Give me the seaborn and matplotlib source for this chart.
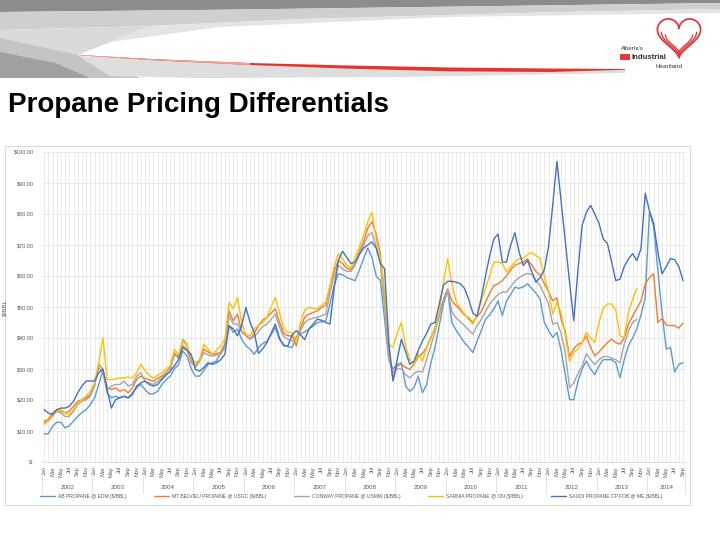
import numpy as np
import pandas as pd
import matplotlib
matplotlib.use('Agg')
import matplotlib.pyplot as plt
import seaborn as sns
from matplotlib.patches import Polygon, Rectangle
from matplotlib.transforms import blended_transform_factory

# ---- data (monthly, Jan 2002 .. Sep 2014), $/bbl ----
names = ['AB PROPANE @ EDM ($/BBL)', 'MT BELVIEU PROPANE @ USGC ($/BBL)',
         'CONWAY PROPANE @ USMW ($/BBL)', 'SARNIA PROPANE @ ON ($/BBL)',
         'SAUDI PROPANE CP FOB @ ME ($/BBL)']
colors = ['#5B9BD5', '#ED7D31', '#A5A5A5', '#FFC000', '#4472C4']

month_abbr = ['Jan', 'Feb', 'Mar', 'Apr', 'May', 'Jun',
              'Jul', 'Aug', 'Sep', 'Oct', 'Nov', 'Dec']
years = ['2002', '2003', '2004', '2005', '2006', '2007', '2008',
         '2009', '2010', '2011', '2012', '2013', '2014']
y_ticks = [0, 10, 20, 30, 40, 50, 60, 70, 80, 90, 100]
y_labels = ['$-', '$10.00', '$20.00', '$30.00', '$40.00', '$50.00',
            '$60.00', '$70.00', '$80.00', '$90.00', '$100.00']

ab_edm = [
    9.1, 9.1, 11.5, 12.8, 12.8, 11.0, 11.7, 13.2, 14.7, 16.0,
    16.9, 18.5, 20.7, 25.0, 29.4, 22.3, 20.7, 21.2, 20.7, 21.2,
    20.7, 22.3, 23.9, 25.0, 23.4, 22.0, 22.0, 22.8, 25.0, 26.5,
    27.7, 30.0, 31.5, 35.8, 34.2, 30.0, 27.7, 27.7, 29.5, 31.5,
    32.0, 32.6, 35.3, 38.0, 44.0, 41.8, 42.9, 39.6, 37.5, 36.4,
    34.7, 37.0, 38.2, 39.0, 41.0, 43.4, 39.5, 37.8, 37.2, 36.9,
    40.5, 41.3, 42.0, 42.9, 43.8, 45.0, 45.2, 45.5, 51.0, 57.0,
    60.7, 60.4, 59.5, 59.0, 58.5, 62.0, 65.6, 69.0, 66.0, 60.0,
    58.5, 46.0, 33.0, 30.0, 31.5, 32.0, 24.5, 22.8, 24.0, 27.7,
    22.3, 25.0, 32.0, 37.0, 44.0, 51.0, 55.3, 45.0, 42.5, 40.5,
    38.5, 37.0, 35.3, 39.0, 42.4, 46.0, 47.5, 49.4, 52.0, 47.2,
    52.0, 54.0, 56.4, 56.0, 56.5, 57.5, 56.0, 54.5, 52.6, 45.0,
    42.4, 40.2, 41.8, 36.0, 28.0, 20.1, 20.1, 26.0, 30.0, 32.6,
    30.0, 28.2, 31.0, 33.0, 33.0, 33.0, 32.0, 27.2, 33.0, 37.5,
    40.0, 43.0, 47.5, 53.0, 80.8, 76.0, 62.0, 48.0, 36.4, 37.0,
    29.0, 31.5, 32.0]

mt_belvieu = [
    13.2, 13.7, 15.8, 16.9, 16.4, 15.8, 16.4, 18.0, 19.6, 20.1,
    20.7, 21.7, 25.0, 31.5, 29.9, 23.9, 23.4, 23.9, 22.8, 23.4,
    22.3, 23.9, 26.6, 27.7, 27.0, 26.5, 26.0, 27.0, 27.7, 29.0,
    30.5, 34.7, 33.5, 37.5, 36.4, 32.0, 31.0, 33.0, 36.4, 35.5,
    34.7, 35.0, 35.3, 38.0, 48.8, 45.5, 47.7, 42.0, 40.7, 39.6,
    41.5, 44.0, 45.8, 46.6, 48.0, 49.4, 45.0, 41.5, 40.7, 40.7,
    37.5, 43.0, 46.8, 47.7, 48.2, 48.8, 49.8, 50.5, 56.5, 61.5,
    65.0, 64.0, 62.5, 62.0, 64.0, 68.0, 71.0, 75.5, 77.5, 73.5,
    67.0, 53.0, 37.0, 26.2, 31.0, 31.5, 30.5, 29.9, 31.5, 34.0,
    35.0, 37.0, 40.0, 43.5, 48.0, 52.5, 55.8, 52.0, 50.5, 49.0,
    47.5, 46.5, 45.0, 47.0, 48.5, 51.5, 54.5, 56.9, 57.5, 58.5,
    60.0, 62.0, 63.5, 64.0, 64.5, 65.5, 63.5, 61.5, 60.2, 57.5,
    55.0, 52.0, 53.0, 46.0, 42.0, 34.0, 36.5, 38.0, 38.5, 40.7,
    37.0, 34.2, 35.5, 37.0, 38.5, 39.6, 38.5, 38.0, 40.0, 44.5,
    47.0, 49.5, 52.0, 57.5, 59.5, 60.7, 45.0, 46.3, 44.2, 44.0,
    44.0, 43.2, 44.8]

conway = [
    12.6, 13.2, 14.7, 16.4, 15.8, 14.7, 14.7, 16.4, 18.5, 19.6,
    20.1, 21.2, 24.5, 30.5, 28.8, 23.4, 24.5, 25.0, 25.0, 26.1,
    24.5, 25.0, 27.7, 28.8, 26.0, 25.5, 25.0, 26.0, 27.2, 28.3,
    29.3, 35.3, 34.0, 39.6, 38.0, 32.6, 30.5, 32.5, 35.3, 34.5,
    34.2, 34.5, 34.7, 36.9, 47.2, 44.5, 44.5, 42.0, 41.3, 39.6,
    40.5, 42.0, 43.7, 44.5, 46.0, 47.7, 43.5, 40.5, 39.5, 39.0,
    39.0, 42.5, 45.0, 46.0, 46.4, 46.7, 47.2, 47.7, 54.5, 60.0,
    63.4, 62.3, 61.5, 61.5, 63.5, 67.0, 69.9, 73.0, 74.0, 69.5,
    64.0, 50.0, 33.1, 28.8, 30.0, 30.0, 28.2, 27.1, 28.5, 29.3,
    29.0, 33.0, 37.5, 42.0, 47.0, 52.0, 55.3, 48.5, 46.5, 45.3,
    44.0, 42.5, 41.3, 44.0, 46.0, 48.5, 51.0, 52.6, 54.0, 54.8,
    54.8, 56.5, 58.3, 59.5, 60.3, 60.8, 60.5, 58.5, 56.9, 54.0,
    51.0, 44.5, 45.0, 41.5, 35.0, 24.0, 25.5, 28.5, 31.0, 35.0,
    33.0, 31.5, 33.0, 34.0, 34.0, 33.5, 33.0, 32.0, 38.0, 42.3,
    45.0, 46.0]

sarnia = [
    12.1, 13.2, 15.0, 16.4, 16.9, 15.8, 15.3, 16.9, 19.0, 20.1,
    21.2, 22.8, 25.5, 32.0, 40.0, 26.6, 26.6, 26.8, 27.1, 27.1,
    27.4, 27.1, 28.8, 31.5, 29.5, 28.0, 27.0, 28.0, 28.8, 30.0,
    31.0, 36.4, 34.7, 39.0, 37.5, 33.6, 32.0, 33.0, 38.0, 36.4,
    34.7, 36.0, 37.5, 39.6, 51.5, 49.4, 53.1, 45.0, 41.0, 40.7,
    43.0, 44.0, 45.0, 46.6, 50.0, 53.1, 48.0, 43.0, 41.8, 41.8,
    38.5, 45.0, 49.0, 49.9, 49.6, 49.4, 50.5, 51.5, 57.0, 63.0,
    67.2, 65.5, 63.5, 62.5, 66.0, 69.5, 73.1, 77.5, 80.5, 72.0,
    66.0, 55.0, 38.0, 37.0, 41.5, 45.0, 37.5, 33.0, 31.5, 35.0,
    32.5, 37.0, 40.5, 43.0, 48.5, 58.0, 65.6, 57.5, 52.0, 49.5,
    47.8, 46.0, 44.5, 47.5, 52.0, 56.0, 60.0, 64.5, 64.5, 64.0,
    61.3, 63.0, 64.5, 65.6, 65.6, 67.0, 67.5, 66.6, 65.6, 60.0,
    55.0, 47.8, 51.5, 48.0, 40.7, 32.5, 35.3, 36.4, 38.5, 41.8,
    40.0, 38.6, 45.0, 49.5, 51.0, 51.0, 49.0, 40.7, 40.2, 48.3,
    52.5, 56.0]

saudi_cp = [
    16.9, 15.8, 15.3, 16.9, 17.4, 17.4, 18.0, 19.6, 22.3, 24.5,
    26.1, 26.1, 26.1, 28.8, 29.9, 23.4, 17.4, 20.1, 20.7, 21.2,
    20.7, 21.7, 24.5, 25.5, 26.1, 25.0, 24.5, 25.0, 26.6, 28.0,
    29.3, 31.0, 33.1, 36.9, 36.0, 34.7, 29.9, 29.3, 30.5, 32.0,
    31.5, 32.0, 33.0, 34.7, 44.0, 42.9, 40.7, 44.0, 49.9, 45.0,
    41.8, 35.0, 36.5, 38.5, 41.5, 44.5, 40.0, 37.5, 37.5, 41.0,
    42.4, 41.0, 39.5, 42.9, 44.5, 46.1, 45.7, 45.0, 44.5, 56.0,
    65.0, 68.0, 66.0, 64.0, 64.5, 67.0, 69.0, 70.0, 71.0, 69.0,
    64.0, 62.3, 38.5, 26.2, 33.1, 39.6, 35.5, 31.5, 32.5, 36.0,
    39.0, 41.5, 44.5, 45.0, 51.0, 57.0, 58.3, 58.3, 58.0, 57.5,
    56.0, 52.5, 48.0, 47.0, 53.0, 60.0, 66.5, 72.0, 73.5, 64.5,
    64.5, 70.0, 74.0, 67.7, 63.4, 65.0, 61.5, 58.0, 59.5, 62.0,
    69.5, 83.0, 97.0, 84.0, 71.0, 58.0, 45.6, 62.0, 76.4, 80.5,
    82.8, 80.0, 77.0, 72.0, 70.5, 64.6, 58.5, 59.0, 63.0, 65.5,
    67.2, 65.0, 68.8, 86.7, 81.0, 77.0, 67.8, 60.7, 63.0, 65.6,
    65.3, 63.0, 58.5]

n_months = len(ab_edm)
series = [ab_edm, mt_belvieu, conway, sarnia, saudi_cp]
rows = []
for name, vals in zip(names, series):
    for i, v in enumerate(vals):
        rows.append((i, v, name))
df = pd.DataFrame(rows, columns=['month', 'price', 'series'])

# ---- figure ----
sns.set_theme(style='white')
plt.rcParams['font.family'] = ['Liberation Sans Narrow', 'Liberation Sans', 'DejaVu Sans']

fig = plt.figure(figsize=(7.2, 5.4), dpi=100)

# slide decoration (pixel coordinates, y down)
bg = fig.add_axes([0, 0, 1, 1], zorder=0)
bg.set_xlim(0, 720)
bg.set_ylim(540, 0)
bg.axis('off')

bg.add_patch(Polygon([(0, 0), (720, 0), (720, 3), (500, 6), (200, 10), (0, 12)],
                     color='#8c8c8c', lw=0))
bg.add_patch(Polygon([(0, 12), (200, 10), (500, 6), (720, 3), (720, 9), (560, 12),
                      (300, 19), (150, 26), (0, 30)], color='#cfcfcf', lw=0))
bg.add_patch(Polygon([(150, 26), (300, 19), (560, 12), (720, 9), (720, 13), (450, 17),
                      (220, 27), (110, 42), (78, 55)], color='#e4e4e4', lw=0))
bg.add_patch(Polygon([(0, 30), (150, 26), (78, 55), (0, 50)], color='#dadada', lw=0))
bg.add_patch(Polygon([(0, 38), (78, 55), (140, 78), (0, 78)], color='#c4c4c4', lw=0))
bg.add_patch(Polygon([(0, 52), (55, 63), (90, 78), (0, 78)], color='#a0a0a0', lw=0))
bg.add_patch(Polygon([(78, 56), (300, 66), (625, 70), (625, 73), (400, 77), (200, 78),
                      (110, 76)], color='#dedede', lw=0))

# red streak
sx = np.array([80, 150, 250, 350, 450, 550, 625])
sy = np.array([55, 59, 63, 65.5, 67.5, 68.5, 69])
th = np.array([0.4, 1.0, 2.0, 3.2, 3.8, 3.5, 0.8])
bg.add_patch(Polygon(np.column_stack([np.r_[sx, sx[::-1]], np.r_[sy, (sy + th)[::-1]]]),
                     color='#e3342f', lw=0))
bg.add_patch(Polygon(np.column_stack([np.r_[sx[:3], sx[:3][::-1]],
                                      np.r_[sy[:3], (sy[:3] + th[:3])[::-1]]]),
                     color='#f2a39a', lw=0))

# logo
t = np.linspace(0, 2 * np.pi, 200)
hx = 16 * np.sin(t) ** 3
hy = 13 * np.cos(t) - 5 * np.cos(2 * t) - 2 * np.cos(3 * t) - np.cos(4 * t)
for s, lw in [(1.35, 1.3), (1.1, 1.0), (0.85, 0.9)]:
    keep = hy < 4 if s < 1.3 else np.ones_like(hy, dtype=bool)
    bg.plot(679 + s * hx[keep], 35 - s * hy[keep] + (1.35 - s) * 6, color='#e0393e', lw=lw)
bg.text(621, 49, "Alberta's", fontsize=4.2, color='#333333', va='center', ha='left')
bg.add_patch(Rectangle((620, 54), 10, 6, color='#e0393e', lw=0))
bg.text(631, 57.5, 'Industrial', fontsize=5.6, fontweight='bold', color='#333333',
        va='center', ha='left')
bg.text(683, 66, 'Heartland', fontsize=4.5, color='#333333', va='center', ha='right')

# title
fig.text(8 / 720, 1 - 112 / 540, 'Propane Pricing Differentials', fontsize=20,
         fontweight='bold', color='#000000', va='baseline', ha='left',
         family=['Liberation Sans Narrow', 'Liberation Sans', 'DejaVu Sans'])

# chart border
bg.add_patch(Rectangle((5, 146), 685, 359, fill=False, edgecolor='#d9d9d9', lw=0.8))

# ---- chart ----
ax = fig.add_axes([42 / 720, 1 - 462 / 540, 644 / 720, 310 / 540], zorder=1)
ax.set_facecolor('none')
sns.lineplot(data=df, x='month', y='price', hue='series', hue_order=names,
             palette=dict(zip(names, colors)), linewidth=1.0, estimator=None,
             sort=False, ax=ax)

ax.set_xlim(-0.5, n_months - 0.3)
ax.set_ylim(0, 100)
ax.set_yticks(y_ticks, y_labels)
ax.set_xticks(range(n_months),
              [month_abbr[i % 12] if i % 2 == 0 else '' for i in range(n_months)])
ax.tick_params(axis='x', length=0, labelsize=4, labelrotation=90, pad=3,
               colors='#595959')
ax.tick_params(axis='y', length=0, labelsize=4, pad=6, colors='#595959')
ax.grid(True, color='#e1e1e1', lw=0.5)
for side in ['top', 'right', 'left']:
    ax.spines[side].set_visible(False)
ax.spines['bottom'].set_color('#d9d9d9')
ax.spines['bottom'].set_linewidth(0.6)
ax.set_xlabel('')
ax.set_ylabel('$/BBL', fontsize=4.5, color='#595959')
ax.yaxis.set_label_coords(-0.053, 0.5)

# year groups under the month labels
trans = blended_transform_factory(ax.transData, ax.transAxes)
for k, yr in enumerate(years):
    start = 12 * k
    end = min(12 * k + 11, n_months - 1)
    ax.text((start + end) / 2, -0.081, yr, transform=trans, ha='center', va='center',
            fontsize=4.5, color='#595959')
for k in range(len(years) + 1):
    xb = min(12 * k - 0.5, n_months - 0.5)
    ax.plot([xb, xb], [-0.025, -0.10], transform=trans, clip_on=False,
            color='#d9d9d9', lw=0.5)

sns.move_legend(ax, 'center', bbox_to_anchor=(0.48, -0.11), ncol=5, frameon=False,
                title=None, fontsize=3.6, handlelength=3.0, columnspacing=5.5,
                handletextpad=0.6)
for txt in ax.get_legend().get_texts():
    txt.set_color('#595959')

fig.savefig('out.png', dpi=100)
